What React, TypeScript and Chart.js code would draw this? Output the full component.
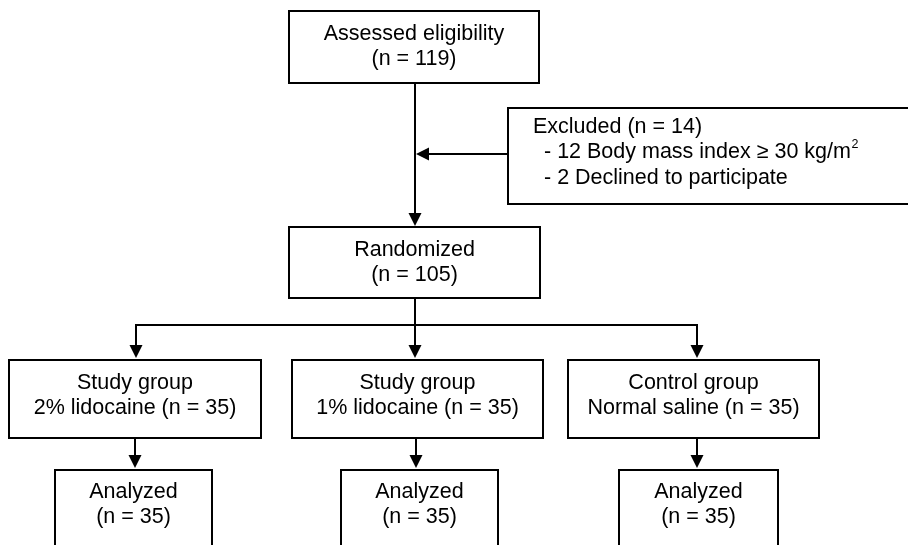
import React, { useEffect, useRef } from "react";
import { Chart, registerables } from "chart.js";

Chart.register(...registerables);

// ---- content (flow diagram text and counts) ----
const assessedN = 119;
const excludedN = 14;
const excludedBmiN = 12;
const declinedN = 2;
const randomizedN = 105;
const groupNames = ["Study group", "Study group", "Control group"];
const groupArms = ["2% lidocaine", "1% lidocaine", "Normal saline"];
const groupN = [35, 35, 35];
const analyzedN = [35, 35, 35];

// ---- layout (diagram coordinates, 908 x 545 units) ----
const centerBoxes = [
  // [x0, y0, x1, y1, firstLineY]
  [289, 11, 539, 83, 34],
  [289, 227, 540, 298, 250],
];
const groupBoxes = [
  [9, 360, 261, 438, 383],
  [292, 360, 543, 438, 383],
  [568, 360, 819, 438, 383],
];
const analyzedBoxes = [
  [55, 470, 212, 560, 492],
  [341, 470, 498, 560, 492],
  [619, 470, 778, 560, 492],
];
const excludedBox = [508, 108, 920, 204];
const excludedLinesY = [127, 152, 178];
const excludedX = [533, 544];
const lineGap = 25.5;
const branchY = 325;
const mainX = 415;
const branchX = [136, 415, 697];
const analyzedArrowX = [135, 416, 697];

const FONT = '"Liberation Sans", Arial, Helvetica, sans-serif';

export default function App() {
  const ref = useRef<HTMLCanvasElement | null>(null);

  useEffect(() => {
    if (!ref.current) return;

    const flowPlugin = {
      id: "flow",
      afterDraw(chart: any) {
        const ctx: CanvasRenderingContext2D = chart.ctx;
        const xs = chart.scales.x;
        const ys = chart.scales.y;
        const X = (v: number) => xs.getPixelForValue(v);
        const Y = (v: number) => ys.getPixelForValue(v);

        ctx.save();
        ctx.fillStyle = "#ffffff";
        ctx.fillRect(0, 0, chart.width, chart.height);
        ctx.strokeStyle = "#000";
        ctx.fillStyle = "#000";
        ctx.lineWidth = 2;
        ctx.lineCap = "butt";

        const rect = (b: number[]) => {
          ctx.strokeRect(X(b[0]), Y(b[1]), X(b[2]) - X(b[0]), Y(b[3]) - Y(b[1]));
        };
        const line = (x0: number, y0: number, x1: number, y1: number) => {
          ctx.beginPath();
          ctx.moveTo(X(x0), Y(y0));
          ctx.lineTo(X(x1), Y(y1));
          ctx.stroke();
        };
        const head = (x: number, y: number, dir: "down" | "left") => {
          const px = X(x);
          const py = Y(y);
          const L = 13;
          const W = 6.5;
          ctx.beginPath();
          if (dir === "down") {
            ctx.moveTo(px, py);
            ctx.lineTo(px - W, py - L);
            ctx.lineTo(px + W, py - L);
          } else {
            ctx.moveTo(px, py);
            ctx.lineTo(px + L, py - W);
            ctx.lineTo(px + L, py + W);
          }
          ctx.closePath();
          ctx.fill();
        };
        const arrowDown = (x: number, y0: number, y1: number) => {
          line(x, y0, x, y1 - 10);
          head(x, y1, "down");
        };
        const centerText = (lines: string[], b: number[]) => {
          ctx.textAlign = "center";
          ctx.textBaseline = "middle";
          const cx = X((b[0] + b[2]) / 2);
          lines.forEach((t, i) => ctx.fillText(t, cx, Y(b[4] + i * lineGap)));
        };

        // boxes
        centerBoxes.forEach(rect);
        groupBoxes.forEach(rect);
        analyzedBoxes.forEach(rect);
        rect(excludedBox);

        // connectors
        arrowDown(mainX, centerBoxes[0][3], centerBoxes[1][1] - 1);
        line(excludedBox[0], excludedLinesY[1] + 2, mainX + 10, excludedLinesY[1] + 2);
        head(mainX + 1, excludedLinesY[1] + 2, "left");
        line(mainX, centerBoxes[1][3], mainX, branchY);
        line(branchX[0] - 1, branchY, branchX[2] + 1, branchY);
        branchX.forEach((bx, i) => arrowDown(bx, branchY, groupBoxes[i][1] - 2));
        groupBoxes.forEach((g, i) => {
          arrowDown(analyzedArrowX[i], g[3], analyzedBoxes[i][1] - 2);
        });

        // text
        ctx.font = `21.5px ${FONT}`;
        centerText(["Assessed eligibility", `(n = ${assessedN})`], centerBoxes[0]);
        centerText(["Randomized", `(n = ${randomizedN})`], centerBoxes[1]);
        groupBoxes.forEach((g, i) =>
          centerText([groupNames[i], `${groupArms[i]} (n = ${groupN[i]})`], g)
        );
        analyzedBoxes.forEach((a, i) => centerText(["Analyzed", `(n = ${analyzedN[i]})`], a));

        ctx.textAlign = "left";
        ctx.textBaseline = "middle";
        ctx.fillText(`Excluded (n = ${excludedN})`, X(excludedX[0]), Y(excludedLinesY[0]));
        const bmi = `- ${excludedBmiN} Body mass index \u2265 30 kg/m`;
        ctx.fillText(bmi, X(excludedX[1]), Y(excludedLinesY[1]));
        const w = ctx.measureText(bmi).width;
        ctx.font = `12.5px ${FONT}`;
        ctx.fillText("2", X(excludedX[1]) + w + 0.5, Y(excludedLinesY[1]) - 7);
        ctx.font = `21.5px ${FONT}`;
        ctx.fillText(`- ${declinedN} Declined to participate`, X(excludedX[1]), Y(excludedLinesY[2]));

        ctx.restore();
      },
    };

    const chart = new Chart(ref.current, {
      type: "scatter",
      data: { datasets: [{ data: [], pointRadius: 0 }] },
      options: {
        animation: false,
        responsive: false,
        layout: { padding: 0 },
        plugins: { legend: { display: false }, tooltip: { enabled: false } },
        scales: {
          x: { type: "linear", min: 0, max: 908, display: false },
          y: { type: "linear", min: 0, max: 545, reverse: true, display: false },
        },
      },
      plugins: [flowPlugin],
    });
    return () => chart.destroy();
  }, []);

  return (
    <div style={{ position: "fixed", left: 0, top: 0, width: 908, height: 545, background: "#fff" }}>
      <canvas ref={ref} width={908} height={545} style={{ display: "block" }} />
    </div>
  );
}
